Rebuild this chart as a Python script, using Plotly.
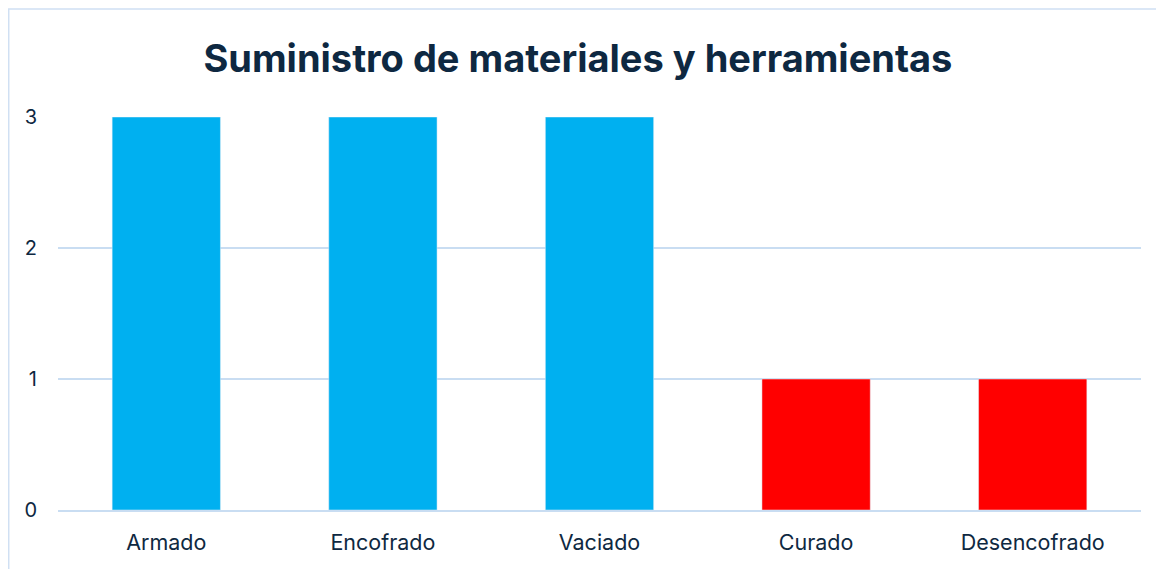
import plotly.graph_objects as go

categories = ["Armado", "Encofrado", "Vaciado", "Curado", "Desencofrado"]
values = [3, 3, 3, 1, 1]
bar_colors = ["#00B0F0", "#00B0F0", "#00B0F0", "#FF0000", "#FF0000"]

text_color = "#0E2841"
grid_color = "#C9DDF2"

fig = go.Figure()
fig.add_trace(go.Bar(x=categories, y=values, marker_color=bar_colors, width=0.5))

# the page adds an 8px body margin, so the figure is sized/shifted to compensate
fig.update_layout(
    width=1156,
    height=561,
    margin=dict(l=50, r=23, t=109, b=59),
    paper_bgcolor="white",
    plot_bgcolor="white",
    showlegend=False,
    font=dict(family="Inter, Open Sans, sans-serif", color=text_color, size=21),
    title=dict(
        text="<b>Suministro de materiales y herramientas</b>",
        x=0.493, xanchor="center",
        y=0.91, yanchor="middle",
        font=dict(size=38, color=text_color, family="Inter, Open Sans, sans-serif"),
    ),
    bargap=0.5,
)
fig.update_yaxes(
    range=[0, 3], dtick=1, showgrid=True, gridcolor=grid_color, gridwidth=1.5,
    zeroline=False, showline=False, ticks="", ticklabelstandoff=20,
    tickfont=dict(size=20, color=text_color),
)
fig.update_xaxes(
    showline=True, linecolor=grid_color, linewidth=1.5, ticks="",
    ticklabelstandoff=12, tickfont=dict(size=21.5, color=text_color),
)
# outer chart frame (only top and left visible in the crop)
fig.add_shape(
    type="rect", xref="paper", yref="paper",
    x0=-0.0455, x1=1.2, y0=-0.4, y1=1.275,
    line=dict(color="#D0E0F3", width=1.5), fillcolor="rgba(0,0,0,0)",
    layer="below",
)

fig.write_html("out.html")
